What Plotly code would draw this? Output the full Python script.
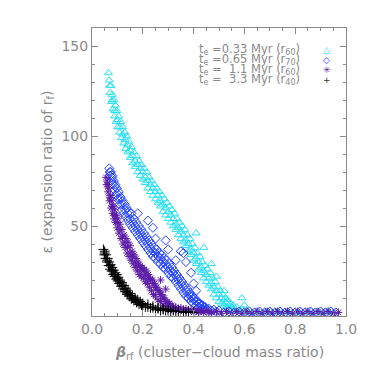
"""Expansion ratio vs cluster-cloud mass ratio for four gas-expulsion timescales."""

import plotly.graph_objects as go

# t_e = 0.33 Myr (r60) - cyan triangles
beta_033 = [0.065, 0.068, 0.071, 0.074, 0.077, 0.080, 0.083, 0.086, 0.089, 0.092,
            0.095, 0.098, 0.101, 0.105, 0.109, 0.113, 0.117, 0.121, 0.125, 0.129,
            0.133, 0.137, 0.141, 0.145, 0.150, 0.155, 0.160, 0.165, 0.170, 0.175,
            0.180, 0.185, 0.190, 0.195, 0.200, 0.205, 0.210, 0.215, 0.220, 0.225,
            0.230, 0.235, 0.240, 0.245, 0.250, 0.255, 0.260, 0.265, 0.270, 0.275,
            0.280, 0.285, 0.290, 0.295, 0.300, 0.305, 0.310, 0.315, 0.320, 0.325,
            0.330, 0.335, 0.340, 0.345, 0.350, 0.355, 0.360, 0.365, 0.370, 0.375,
            0.380, 0.385, 0.390, 0.395, 0.400, 0.405, 0.410, 0.415, 0.420, 0.425,
            0.430, 0.435, 0.440, 0.445, 0.450, 0.455, 0.460, 0.465, 0.470, 0.475,
            0.480, 0.485, 0.490, 0.495, 0.500, 0.505, 0.510, 0.515, 0.520, 0.525,
            0.530, 0.535, 0.540, 0.545, 0.550, 0.555, 0.560, 0.570, 0.580, 0.590,
            0.600, 0.410, 0.440, 0.470, 0.590, 0.600, 0.520, 0.490,
            0.61, 0.63, 0.65, 0.67, 0.69, 0.71, 0.73, 0.75, 0.77, 0.79,
            0.81, 0.83, 0.85, 0.87, 0.89, 0.91, 0.93, 0.95,
            0.07, 0.08, 0.09, 0.10, 0.11, 0.12, 0.13, 0.14, 0.15, 0.16,
            0.17, 0.18, 0.19, 0.20, 0.21, 0.22, 0.23, 0.24, 0.25, 0.26,
            0.27, 0.28, 0.29, 0.30, 0.31, 0.32, 0.33, 0.34, 0.35, 0.36,
            0.37, 0.38, 0.39, 0.40, 0.41, 0.42, 0.43, 0.44, 0.45, 0.46,
            0.47, 0.48, 0.49, 0.50, 0.51, 0.52, 0.53, 0.54, 0.55]
eps_033 = [135, 131, 124, 128, 119, 123, 115, 120, 111, 117,
           108, 114, 105, 111, 102, 108, 99, 105, 96, 102,
           93, 100, 91, 97, 88, 94, 85, 91, 83, 89,
           80, 86, 78, 84, 76, 82, 74, 80, 71, 77,
           69, 75, 67, 73, 65, 71, 63, 69, 61, 67,
           58, 65, 56, 63, 54, 61, 52, 59, 50, 57,
           48, 54, 45, 52, 43, 50, 41, 48, 39, 45,
           36, 43, 34, 40, 31, 38, 29, 35, 26, 33,
           24, 30, 21, 28, 19, 26, 17, 24, 15, 21,
           12, 19, 10, 16, 8, 14, 7, 12, 6, 10,
           5, 9, 4, 7, 3, 6, 3, 5, 2.5, 4,
           2, 46, 38, 29, 10, 6, 14, 22,
           3, 2, 2.5, 2, 2.5, 2, 2.5, 2, 2.5, 2,
           2.5, 2, 2.5, 2, 2.5, 2, 2.5, 2,
           128, 120, 114, 109, 105, 101, 98, 95, 92, 89,
           86, 84, 82, 80, 77, 75, 73, 71, 69, 67,
           64, 62, 60, 58, 56, 54, 51, 49, 47, 45,
           42, 40, 37, 35, 32, 30, 27, 25, 23, 21,
           18, 16, 14, 12, 10, 9, 7, 6, 5]

# t_e = 0.65 Myr (r70) - blue diamonds
beta_065 = [0.068, 0.071, 0.074, 0.077, 0.080, 0.083, 0.086, 0.089, 0.092, 0.095,
            0.098, 0.101, 0.105, 0.109, 0.113, 0.117, 0.121, 0.125, 0.129, 0.133,
            0.137, 0.141, 0.145, 0.150, 0.155, 0.160, 0.165, 0.170, 0.175, 0.180,
            0.185, 0.190, 0.195, 0.200, 0.205, 0.210, 0.215, 0.220, 0.225, 0.230,
            0.235, 0.240, 0.245, 0.250, 0.255, 0.260, 0.265, 0.270, 0.275, 0.280,
            0.285, 0.290, 0.295, 0.300, 0.305, 0.310, 0.315, 0.320, 0.325, 0.330,
            0.335, 0.340, 0.345, 0.350, 0.355, 0.360, 0.365, 0.370, 0.375, 0.380,
            0.385, 0.390, 0.395, 0.400, 0.405, 0.410, 0.415, 0.420, 0.425, 0.430,
            0.435, 0.440, 0.445, 0.450, 0.460, 0.470, 0.480, 0.490, 0.500,
            0.52, 0.54, 0.56, 0.58, 0.60, 0.62, 0.64, 0.66, 0.68, 0.70,
            0.72, 0.74, 0.76, 0.78, 0.80, 0.82, 0.84, 0.86, 0.88, 0.90,
            0.92, 0.94, 0.96,
            0.18, 0.22, 0.24, 0.25, 0.29, 0.30, 0.35, 0.33, 0.36, 0.37,
            0.39, 0.40, 0.41,
            0.07, 0.08, 0.09, 0.10, 0.11, 0.12, 0.13, 0.14, 0.15, 0.16,
            0.17, 0.18, 0.19, 0.20, 0.21, 0.22, 0.23, 0.24, 0.25, 0.26,
            0.27, 0.28, 0.29, 0.30, 0.31, 0.32, 0.33, 0.34, 0.35, 0.36,
            0.37, 0.38, 0.39, 0.40, 0.41, 0.42, 0.43, 0.44, 0.45]
eps_065 = [82, 78, 80, 75, 78, 73, 75, 70, 73, 67,
           71, 65, 69, 62, 66, 59, 64, 57, 62, 55,
           60, 53, 58, 51, 57, 49, 54, 47, 52, 45,
           50, 43, 48, 41, 46, 39, 44, 37, 42, 35,
           40, 33, 38, 32, 37, 30, 35, 29, 34, 27,
           32, 26, 31, 24, 29, 22, 27, 21, 25, 19,
           23, 17, 21, 15, 19, 13, 17, 11, 15, 10,
           13, 8, 11, 7, 10, 6, 8, 5, 7, 4,
           6, 3.5, 5, 3, 4, 3, 3.5, 2.5, 3,
           2, 2.5, 2, 2.5, 2, 2.5, 2, 2.5, 2, 2.5,
           2, 2.5, 2, 2.5, 2, 2.5, 2, 2.5, 2, 2.5,
           2, 2.5, 2,
           57, 53, 49, 43, 42, 37, 36, 31, 35, 30,
           24, 18, 14,
           80, 77, 72, 68, 65, 62, 59, 57, 54, 52,
           50, 48, 46, 44, 42, 40, 38, 36, 35, 33,
           32, 30, 29, 27, 25, 24, 22, 20, 18, 16,
           14, 12, 11, 9, 8, 7, 6, 5, 4]

# t_e = 1.1 Myr (r60) - purple asterisks
beta_11 = [0.055, 0.058, 0.060, 0.063, 0.066, 0.069, 0.072, 0.075, 0.078, 0.081,
           0.084, 0.087, 0.090, 0.093, 0.096, 0.099, 0.102, 0.106, 0.110, 0.114,
           0.118, 0.122, 0.126, 0.130, 0.134, 0.138, 0.142, 0.146, 0.150, 0.154,
           0.158, 0.162, 0.166, 0.170, 0.174, 0.178, 0.182, 0.186, 0.190, 0.194,
           0.198, 0.202, 0.206, 0.210, 0.214, 0.218, 0.222, 0.226, 0.230, 0.234,
           0.238, 0.242, 0.246, 0.250, 0.255, 0.260, 0.265, 0.270, 0.275, 0.280,
           0.285, 0.290, 0.295, 0.300, 0.305, 0.310, 0.315, 0.320, 0.330, 0.340,
           0.350, 0.360, 0.370, 0.380, 0.390, 0.400, 0.410, 0.420, 0.430, 0.440,
           0.450, 0.27, 0.29,
           0.47, 0.49, 0.51, 0.53, 0.55, 0.57, 0.59, 0.61, 0.63, 0.65,
           0.67, 0.69, 0.71, 0.73, 0.75, 0.77, 0.79, 0.81, 0.83, 0.85,
           0.87, 0.89, 0.91, 0.93, 0.95, 0.97,
           0.06, 0.07, 0.08, 0.09, 0.10, 0.11, 0.12, 0.13, 0.14, 0.15,
           0.16, 0.17, 0.18, 0.19, 0.20, 0.21, 0.22, 0.23, 0.24, 0.25,
           0.26, 0.27, 0.28, 0.29, 0.30, 0.32, 0.34, 0.36, 0.38, 0.42, 0.46]
eps_11 = [77, 73, 75, 69, 71, 64, 67, 60, 64, 57,
          61, 54, 59, 52, 56, 49, 54, 46, 51, 43,
          48, 40, 45, 38, 43, 35, 41, 33, 39, 31,
          36, 29, 34, 27, 32, 25, 30, 23, 28, 22,
          27, 21, 26, 19, 25, 18, 23, 16, 21, 14,
          20, 12, 18, 11, 16, 9, 14, 8, 12, 6,
          10, 5, 8, 4, 7, 4, 6, 3, 5, 3,
          4.5, 2.5, 4, 2.5, 3.5, 2, 3.5, 2, 3, 2,
          3, 20, 15,
          2, 2.5, 1.5, 2.5, 1.5, 2.5, 1.5, 2.5, 1.5, 2.5,
          1.5, 2.5, 1.5, 2.5, 1.5, 2.5, 1.5, 2.5, 1.5, 2.5,
          1.5, 2.5, 1.5, 2.5, 1.5, 2,
          73, 66, 61, 56, 52, 48, 44, 41, 38, 35,
          33, 30, 28, 26, 25, 23, 21, 20, 18, 16,
          14, 12, 10, 8, 7, 5, 4, 3.5, 3, 2.5, 2]

# t_e = 3.3 Myr (r40) - black crosses
beta_33 = [0.045, 0.048, 0.050, 0.053, 0.056, 0.059, 0.062, 0.065, 0.068, 0.071,
           0.074, 0.077, 0.080, 0.083, 0.086, 0.089, 0.092, 0.095, 0.098, 0.101,
           0.104, 0.107, 0.110, 0.114, 0.118, 0.122, 0.126, 0.130, 0.134, 0.138,
           0.142, 0.146, 0.150, 0.155, 0.160, 0.165, 0.170, 0.175, 0.180, 0.185,
           0.190, 0.195, 0.200, 0.210, 0.220, 0.230, 0.240, 0.250, 0.260, 0.270,
           0.280, 0.290, 0.300, 0.310, 0.320, 0.340, 0.360, 0.380, 0.400,
           0.05, 0.06, 0.07, 0.08, 0.09, 0.10, 0.11, 0.12, 0.13, 0.14,
           0.15, 0.16, 0.17, 0.18, 0.19, 0.20, 0.22, 0.24, 0.26, 0.28,
           0.30, 0.33, 0.37]
eps_33 = [37, 34, 36, 32, 34, 30, 32, 28, 30, 26,
          28.5, 25, 27, 23, 25.5, 22, 24, 20.5, 23, 19.5,
          21.5, 18, 20, 16.5, 18.5, 15, 17, 13.5, 15.5, 12,
          14, 11, 12.5, 9.5, 11, 8.5, 10, 7.5, 9, 6.5,
          8, 6, 7, 5, 6.5, 4.5, 5.5, 3.5, 4.5, 3,
          4, 3, 3.5, 2.5, 3, 2.5, 2, 2.5, 2,
          35, 31, 28, 25, 23, 21, 19, 17, 15, 13,
          11.5, 10, 9, 8, 7, 6, 5, 4.5, 4, 3.5,
          3, 2.5, 2]

series = [
    (beta_033, eps_033, "triangle-up-open", 7, "#2ae0f4"),
    (beta_065, eps_065, "diamond-open", 7, "#2244ff"),
    (beta_11, eps_11, "asterisk-open", 6.5, "#5a1aa6"),
    (beta_33, eps_33, "cross-thin-open", 7, "#000000"),
]

legend_text = [
    "t<sub>e</sub> =0.33 Myr (r<sub>60</sub>)",
    "t<sub>e</sub> =0.65 Myr (r<sub>70</sub>)",
    "t<sub>e</sub> =\u00a0\u00a01.1 Myr (r<sub>60</sub>)",
    "t<sub>e</sub> =\u00a0\u00a03.3 Myr (r<sub>40</sub>)",
]
legend_sym = ["\u25b3", "\u25c7", "\u2733", "+"]
legend_sym_col = ["#2ae0f4", "#2244ff", "#5a1aa6", "#333333"]

GREY = "#8a8a8a"
FONT = "DejaVu Sans"

fig = go.Figure()
for xs, ys, sym, size, col in series:
    fig.add_trace(go.Scatter(
        x=xs, y=ys, mode="markers",
        marker=dict(symbol=sym, size=size, color=col, line=dict(color=col, width=1)),
        showlegend=False,
    ))

axis_common = dict(
    showline=True, mirror="allticks", linecolor=GREY, linewidth=1,
    ticks="inside", ticklen=6, tickcolor=GREY, tickwidth=1,
    showgrid=False, zeroline=False,
    tickfont=dict(family=FONT, size=14, color=GREY),
)

fig.update_xaxes(range=[0, 1.0], dtick=0.2, tick0=0, tickformat=".1f",
                 minor=dict(dtick=0.05, ticks="inside", ticklen=3, tickcolor=GREY),
                 **axis_common)
fig.update_yaxes(range=[0, 160], dtick=50, tick0=0, labelalias={"0": " "},
                 minor=dict(dtick=10, ticks="inside", ticklen=3, tickcolor=GREY),
                 **axis_common)

annotations = []
for i, (txt, sym, scol) in enumerate(zip(legend_text, legend_sym, legend_sym_col)):
    ypos = 0.924 - i * 0.0347
    annotations.append(dict(
        x=0.413, y=ypos, xref="paper", yref="paper", xanchor="left", yanchor="middle",
        text=txt, showarrow=False, font=dict(family=FONT, size=11.5, color=GREY),
    ))
    annotations.append(dict(
        x=0.925, y=ypos, xref="paper", yref="paper", xanchor="center", yanchor="middle",
        text=sym, showarrow=False, font=dict(family=FONT, size=9, color=scol),
    ))

annotations.append(dict(
    x=0.5, y=-0.13, xref="paper", yref="paper", xanchor="center", yanchor="middle",
    text="<b><i>\u03b2</i></b><sub>rf</sub> (cluster\u2212cloud mass ratio)", showarrow=False,
    font=dict(family=FONT, size=14, color=GREY),
))
annotations.append(dict(
    x=-0.175, y=0.5, xref="paper", yref="paper", xanchor="center", yanchor="middle",
    text="\u03b5 (expansion ratio of r<sub>f</sub>)", textangle=-90, showarrow=False,
    font=dict(family=FONT, size=14, color=GREY),
))

# the page body adds an 8px offset, so the margins are trimmed to match
fig.update_layout(
    width=374, height=374,
    margin=dict(l=84, r=36, t=20, b=66),
    plot_bgcolor="white", paper_bgcolor="white",
    annotations=annotations,
)

fig.write_html("out.html")
